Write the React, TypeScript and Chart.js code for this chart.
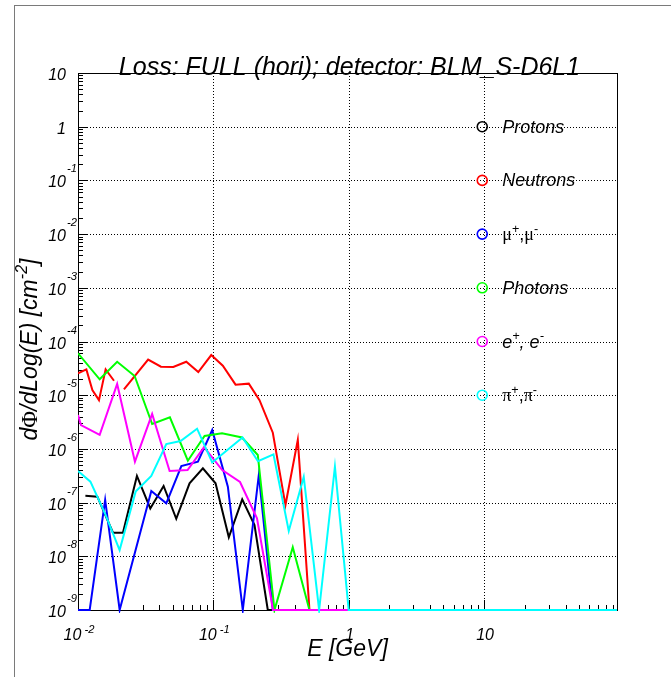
import React, { useEffect, useRef } from "react";
import { Chart, registerables } from "chart.js";

Chart.register(...registerables);

const W = 671;
const H = 677;

// Axis ranges: energy [GeV] and flux
const E_MIN = 0.01;
const E_MAX = 96;
const FLUX_MIN = 1e-9;
const FLUX_MAX = 10;

// Labelled decades on each axis: [base, exponent]
const xTickValues = [0.01, 0.1, 1, 10];
const xTickLabels = [["10", "-2"], ["10", "-1"], ["1", ""], ["10", ""]];
const yTickValues = [10, 1, 0.1, 1e-2, 1e-3, 1e-4, 1e-5, 1e-6, 1e-7, 1e-8, 1e-9];
const yTickLabels = [
  ["10", ""], ["1", ""], ["10", "-1"], ["10", "-2"], ["10", "-3"], ["10", "-4"],
  ["10", "-5"], ["10", "-6"], ["10", "-7"], ["10", "-8"], ["10", "-9"],
];

// Protons
const protonE = [0.01134, 0.0139, 0.01813, 0.02148, 0.02725, 0.0342, 0.0429, 0.0532, 0.0667, 0.0837, 0.1038, 0.1301, 0.1634, 0.2014, 0.2525, 96];
const protonFlux = [1.34e-7, 1.29e-7, 2.75e-8, 2.75e-8, 3.13e-7, 7.8e-8, 2.04e-7, 5.0e-8, 2.29e-7, 4.35e-7, 2.29e-7, 2.26e-8, 1.15e-7, 3.8e-8, 1e-9, 1e-9];

// Neutrons (null = empty stretch, no line drawn)
const neutronE = [0.01, 0.01153, 0.01277, 0.01429, 0.016, 0.01845, 0.02, 0.02185, 0.03297, 0.041, 0.0506, 0.0631, 0.0774, 0.0965, 0.1175, 0.1459, 0.1828, 0.2193, 0.275, 0.341, 0.4207, 0.513, 96];
const neutronFlux = [2.56e-5, 3.03e-5, 1.25e-5, 8.1e-6, 3.03e-5, 1.86e-5, null, 1.29e-5, 4.62e-5, 3.4e-5, 3.35e-5, 4.2e-5, 2.7e-5, 5.6e-5, 3.54e-5, 1.57e-5, 1.64e-5, 8.1e-6, 2.0e-6, 9.0e-8, 1.47e-6, 1e-9, 1e-9];

// Muons
const muonE = [0.01, 0.0122, 0.01587, 0.02031, 0.0348, 0.0449, 0.058, 0.0769, 0.0981, 0.128, 0.165, 0.2167, 0.2748, 96];
const muonFlux = [1e-9, 1e-9, 1.12e-7, 1e-9, 1.64e-7, 9.7e-8, 4.8e-7, 5.8e-7, 2.25e-6, 1.98e-7, 1e-9, 3.27e-7, 1e-9, 1e-9];

// Photons
const photonE = [0.01, 0.01446, 0.01947, 0.02621, 0.0353, 0.04775, 0.0648, 0.0861, 0.1159, 0.1628, 0.213, 0.2829, 0.3861, 0.5129, 96];
const photonFlux = [6.03e-5, 1.98e-5, 4.2e-5, 2.28e-5, 2.91e-6, 3.88e-6, 6.03e-7, 1.74e-6, 1.95e-6, 1.63e-6, 7.7e-7, 1e-9, 1.47e-8, 1e-9, 1e-9];

// Electrons / positrons
const electronE = [0.01, 0.01052, 0.01446, 0.01947, 0.02634, 0.0353, 0.04751, 0.0645, 0.0854, 0.1163, 0.1574, 0.2101, 0.2759, 96];
const electronFlux = [4.28e-6, 2.78e-6, 1.82e-6, 1.62e-5, 5.78e-7, 4.47e-6, 3.87e-7, 4.04e-7, 1.08e-6, 4.04e-7, 2.42e-7, 5.1e-8, 1e-9, 1e-9];

// Pions
const pionE = [0.01, 0.01235, 0.01582, 0.0203, 0.02666, 0.0348, 0.0449, 0.0573, 0.0758, 0.0981, 0.1643, 0.2137, 0.2781, 0.3607, 0.4654, 0.6046, 0.791, 1.0, 96];
const pionFlux = [3.88e-7, 2.45e-7, 6.3e-8, 1.31e-8, 1.6e-7, 3.13e-7, 1.23e-6, 1.4e-6, 2.38e-6, 5.58e-7, 1.63e-6, 5.88e-7, 7.93e-7, 2.96e-8, 3.0e-7, 1e-9, 4.67e-7, 1e-9, 1e-9];

type Seg = { t: string; sup?: boolean; greek?: boolean; upright?: boolean };

const seriesNames: Seg[][] = [
  [{ t: "Protons" }],
  [{ t: "Neutrons" }],
  [{ t: "\u03bc", greek: true }, { t: "+", sup: true, upright: true }, { t: ",", upright: true }, { t: "\u03bc", greek: true }, { t: "-", sup: true, upright: true }],
  [{ t: "Photons" }],
  [{ t: "e" }, { t: "+", sup: true }, { t: ", e" }, { t: "-", sup: true }],
  [{ t: "\u03c0", greek: true }, { t: "+", sup: true, upright: true }, { t: ",", upright: true }, { t: "\u03c0", greek: true }, { t: "-", sup: true, upright: true }],
];
const seriesColors = ["#000000", "#ff0000", "#0000ff", "#00ff00", "#ff00ff", "#00ffff"];
const seriesE = [protonE, neutronE, muonE, photonE, electronE, pionE];
const seriesFlux = [protonFlux, neutronFlux, muonFlux, photonFlux, electronFlux, pionFlux];

const titleText = "Loss: FULL (hori); detector: BLM_S-D6L1";
const xTitle: Seg[] = [{ t: "E [GeV]" }];
const yTitle: Seg[] = [
  { t: "d" }, { t: "\u03a6", greek: true }, { t: "/dLog(E) [cm" }, { t: "-2", sup: true }, { t: "]" },
];

const SANS = '"Liberation Sans", Arial, Helvetica, sans-serif';
const SERIF = '"Liberation Serif", "Times New Roman", serif';

function segFont(seg: Seg, size: number): string {
  const s = seg.sup ? size * 0.7 : size;
  if (seg.greek) return `${s}px ${SERIF}`;
  if (seg.upright) return `${s}px ${SANS}`;
  return `italic ${s}px ${SANS}`;
}

function richWidth(ctx: CanvasRenderingContext2D, segs: Seg[], size: number): number {
  let w = 0;
  for (const seg of segs) {
    ctx.font = segFont(seg, size);
    w += ctx.measureText(seg.t).width;
  }
  return w;
}

function drawRich(ctx: CanvasRenderingContext2D, segs: Seg[], x: number, y: number, size: number) {
  let cx = x;
  ctx.textAlign = "left";
  ctx.textBaseline = "alphabetic";
  for (const seg of segs) {
    ctx.font = segFont(seg, size);
    const dy = seg.sup ? -size * 0.42 : 0;
    ctx.fillText(seg.t, cx, y + dy);
    cx += ctx.measureText(seg.t).width;
  }
}

function decadeTicks(min: number, max: number): { v: number; major: boolean }[] {
  const out: { v: number; major: boolean }[] = [];
  const d0 = Math.floor(Math.log10(min));
  const d1 = Math.ceil(Math.log10(max));
  for (let d = d0; d <= d1; d++) {
    for (let m = 1; m <= 9; m++) {
      const v = m * Math.pow(10, d);
      if (v >= min * 0.9999 && v <= max * 1.0001) out.push({ v, major: m === 1 });
    }
  }
  return out;
}

// Frame, dotted grid and inward ticks, ROOT style
const frameAndAxes = {
  id: "frameAndAxes",
  beforeDatasetsDraw(chart: any) {
    const { ctx, chartArea: a, scales } = chart;
    const xs = scales.x;
    const ys = scales.y;
    ctx.save();
    // dotted grid at labelled decades
    ctx.strokeStyle = "#000";
    ctx.lineWidth = 1;
    ctx.setLineDash([1, 2]);
    for (const v of xTickValues) {
      const px = Math.round(xs.getPixelForValue(v)) + 0.5;
      if (px <= a.left + 1 || px >= a.right - 1) continue;
      ctx.beginPath();
      ctx.moveTo(px, a.top);
      ctx.lineTo(px, a.bottom);
      ctx.stroke();
    }
    for (const v of yTickValues) {
      const py = Math.round(ys.getPixelForValue(v)) + 0.5;
      if (py <= a.top + 1 || py >= a.bottom - 1) continue;
      ctx.beginPath();
      ctx.moveTo(a.left, py);
      ctx.lineTo(a.right, py);
      ctx.stroke();
    }
    ctx.setLineDash([]);
    // frame
    ctx.strokeRect(Math.round(a.left) + 0.5, Math.round(a.top) + 0.5, Math.round(a.right - a.left), Math.round(a.bottom - a.top));
    // ticks
    ctx.beginPath();
    for (const t of decadeTicks(E_MIN, E_MAX)) {
      const px = Math.round(xs.getPixelForValue(t.v)) + 0.5;
      const len = t.major ? 10 : 5;
      ctx.moveTo(px, a.bottom);
      ctx.lineTo(px, a.bottom - len);
    }
    for (const t of decadeTicks(FLUX_MIN, FLUX_MAX)) {
      const py = Math.round(ys.getPixelForValue(t.v)) + 0.5;
      const len = t.major ? 10 : 5;
      ctx.moveTo(a.left, py);
      ctx.lineTo(a.left + len, py);
    }
    ctx.stroke();
    ctx.restore();
  },
  afterDraw(chart: any) {
    const { ctx, chartArea: a, scales } = chart;
    const xs = scales.x;
    const ys = scales.y;
    ctx.save();
    ctx.fillStyle = "#000";

    // tick labels
    const LS = 16;
    xTickValues.forEach((v, i) => {
      const [base, exp] = xTickLabels[i];
      const segs: Seg[] = [{ t: base }];
      if (exp) segs.push({ t: " " + exp, sup: true });
      const w = richWidth(ctx, segs, LS);
      const px = xs.getPixelForValue(v);
      drawRich(ctx, segs, px - w / 2 + 1, a.bottom + 30, LS);
    });
    yTickValues.forEach((v, i) => {
      const [base, exp] = yTickLabels[i];
      const py = ys.getPixelForValue(v);
      ctx.font = `italic ${LS}px ${SANS}`;
      ctx.textAlign = "right";
      ctx.textBaseline = "alphabetic";
      ctx.fillText(base, a.left - 12, py + 7);
      if (exp) {
        ctx.font = `italic ${LS * 0.7}px ${SANS}`;
        ctx.textAlign = "left";
        ctx.fillText(exp, a.left - 11, py - 8);
      }
    });

    // title
    ctx.font = `italic 25px ${SANS}`;
    ctx.textAlign = "center";
    ctx.textBaseline = "alphabetic";
    ctx.fillText(titleText, (a.left + a.right) / 2 + 2, a.top + 2);

    // axis titles
    const TS = 23;
    const xw = richWidth(ctx, xTitle, TS);
    drawRich(ctx, xTitle, (a.left + a.right) / 2 - xw / 2, a.bottom + 46, TS);
    const yw = richWidth(ctx, yTitle, TS);
    ctx.save();
    ctx.translate(37, (a.top + a.bottom) / 2 + 8);
    ctx.rotate(-Math.PI / 2);
    drawRich(ctx, yTitle, -yw / 2, 0, TS);
    ctx.restore();

    // legend
    const w = a.right - a.left;
    const h = a.bottom - a.top;
    const lx = a.left + w * 0.75;
    seriesNames.forEach((segs, i) => {
      const ly = a.top + h * (0.1 + 0.1 * i);
      ctx.beginPath();
      ctx.arc(lx, ly, 5, 0, Math.PI * 2);
      ctx.strokeStyle = seriesColors[i];
      ctx.lineWidth = 1.6;
      ctx.stroke();
      ctx.fillStyle = "#000";
      drawRich(ctx, segs, lx + 20, ly + 6, 18);
    });
    ctx.restore();
  },
};

export default function App() {
  const canvasRef = useRef<HTMLCanvasElement | null>(null);

  useEffect(() => {
    const canvas = canvasRef.current;
    if (!canvas) return;
    const datasets = seriesE.map((es, i) => ({
      label: seriesNames[i].map((s) => s.t).join(""),
      data: es.map((e, j) => ({ x: e, y: seriesFlux[i][j] })),
      borderColor: seriesColors[i],
      backgroundColor: seriesColors[i],
      borderWidth: 2,
      pointRadius: 0,
      tension: 0,
      fill: false,
      spanGaps: false,
      order: seriesE.length - 1 - i,
      clip: { left: 0, top: 0, right: 0, bottom: 3 },
    }));
    const chart = new Chart(canvas, {
      type: "line",
      data: { datasets: datasets as any },
      options: {
        responsive: false,
        animation: false,
        devicePixelRatio: 1,
        layout: { padding: { left: 78, right: 54, top: 73, bottom: 67 } },
        scales: {
          x: { type: "logarithmic", min: E_MIN, max: E_MAX, display: false },
          y: { type: "logarithmic", min: FLUX_MIN, max: FLUX_MAX, display: false },
        },
        plugins: {
          legend: { display: false },
          tooltip: { enabled: false },
          title: { display: false },
        },
      },
      plugins: [frameAndAxes],
    });
    return () => chart.destroy();
  }, []);

  return (
    <div style={{ position: "absolute", left: 0, top: 0, width: W, height: H, background: "#fff", overflow: "hidden" }}>
      <div style={{ position: "absolute", left: 14, top: 5, width: 800, height: 800, borderLeft: "1px solid #7a7a7a", borderTop: "1px solid #7a7a7a" }} />
      <canvas ref={canvasRef} width={W} height={H} style={{ position: "absolute", left: 0, top: 0, display: "block" }} />
    </div>
  );
}
